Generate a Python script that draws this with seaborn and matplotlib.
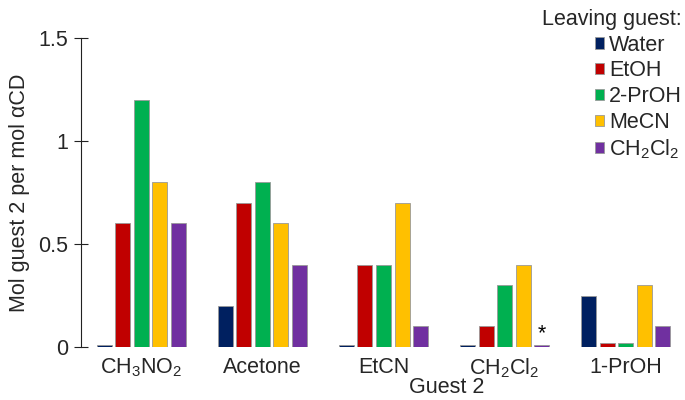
import matplotlib
matplotlib.use("Agg")
import matplotlib.pyplot as plt
import seaborn as sns
import pandas as pd

guests = ["CH$_3$NO$_2$", "Acetone", "EtCN", "CH$_2$Cl$_2$", "1-PrOH"]
leaving = ["Water", "EtOH", "2-PrOH", "MeCN", "CH$_2$Cl$_2$"]
colors = ["#002060", "#C00000", "#00B050", "#FFC000", "#7030A0"]

water = [0.01, 0.20, 0.01, 0.01, 0.25]
etoh = [0.60, 0.70, 0.40, 0.10, 0.02]
proh2 = [1.20, 0.80, 0.40, 0.30, 0.02]
mecn = [0.80, 0.60, 0.70, 0.40, 0.30]
ch2cl2 = [0.60, 0.40, 0.10, 0.01, 0.10]

yticks = [0, 0.5, 1, 1.5]
yticklabels = ["0", "0.5", "1", "1.5"]

rows = []
for name, vals in zip(leaving, [water, etoh, proh2, mecn, ch2cl2]):
    for g, v in zip(guests, vals):
        rows.append({"Guest 2": g, "Leaving": name, "value": v})
df = pd.DataFrame(rows)

sns.set_theme(style="white")
plt.rcParams["font.family"] = ["Liberation Sans", "DejaVu Sans"]
plt.rcParams["mathtext.fontset"] = "custom"
plt.rcParams["mathtext.rm"] = "Liberation Sans"
plt.rcParams["mathtext.it"] = "Liberation Sans:italic"
plt.rcParams["mathtext.bf"] = "Liberation Sans:bold"
FS = 15.5

fig = plt.figure(figsize=(6.85, 4.0), dpi=100)
ax = fig.add_axes([0.118, 0.1325, 0.882, 0.7725])

sns.barplot(data=df, x="Guest 2", y="value", hue="Leaving", order=guests,
            hue_order=leaving, palette=colors, width=0.765, gap=0.19,
            edgecolor="#999999", linewidth=0.6, saturation=1, ax=ax, legend=True)

ax.set_xlim(-0.5, 4.49)
ax.set_ylim(0, 1.5)
ax.set_yticks(yticks)
ax.set_yticklabels(yticklabels, fontsize=FS)
ax.tick_params(axis="y", direction="inout", length=10, width=0.8, color="#222222", pad=4, left=True)
ax.tick_params(axis="x", length=0, pad=7, labelsize=FS)
for s in ["top", "right", "bottom"]:
    ax.spines[s].set_visible(False)
ax.spines["left"].set_color("#222222")
ax.spines["left"].set_linewidth(0.8)

ax.set_ylabel("Mol guest 2 per mol αCD", fontsize=FS, labelpad=6)
ax.set_xlabel("Guest 2", fontsize=FS)
ax.xaxis.set_label_coords(0.605, -0.097)

# asterisk above the CH2Cl2 / CH2Cl2 bar
n = len(guests)
idx = (len(leaving) - 1) * n + 3
p = ax.patches[idx]
ax.text(p.get_x() + p.get_width() / 2, p.get_height() + 0.005, "*",
        ha="center", va="bottom", fontsize=FS, color="black")

handles, labels = ax.get_legend_handles_labels()
ax.get_legend().remove()
leg = fig.legend(handles, labels, title="Leaving guest:", loc="upper right",
                 bbox_to_anchor=(1.014, 1.01), frameon=False, fontsize=FS,
                 title_fontsize=FS, handlelength=0.42, handleheight=0.42,
                 handletextpad=0.2, labelspacing=0.22, borderpad=0.1,
                 alignment="right")
for h in leg.legend_handles:
    h.set_edgecolor("#999999")
    h.set_linewidth(0.6)

fig.savefig("out.png", dpi=100)
